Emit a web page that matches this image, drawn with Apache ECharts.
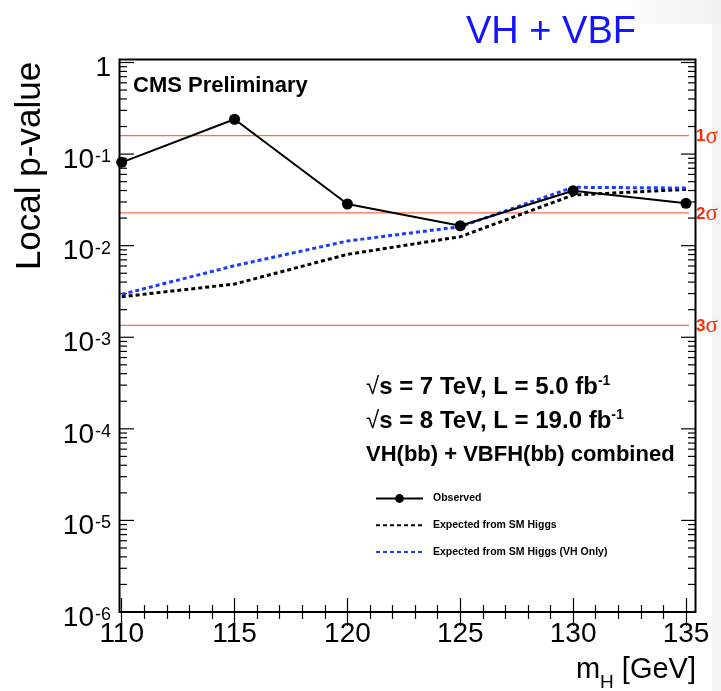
<!DOCTYPE html>
<html>
<head>
<meta charset="utf-8">
<script src="https://cdn.jsdelivr.net/npm/echarts@6/dist/echarts.min.js"></script>
<style>
  html, body { margin: 0; padding: 0; background: #ffffff; }
  #chart { width: 721px; height: 691px; }
</style>
</head>
<body>
<div id="chart"></div>
<script>
// Higgs mass hypotheses [GeV]
const massPoints = [110, 115, 120, 125, 130, 135];
// Local p-values
const observedP   = [0.0813, 0.240, 0.0285, 0.0165, 0.0398, 0.0290];
const expectedP   = [0.00277, 0.00381, 0.00804, 0.01253, 0.0357, 0.0412];
const expectedVHP = [0.00294, 0.00604, 0.01124, 0.0161, 0.0434, 0.0426];
// Significance reference lines
const sigmaP      = [0.1587, 0.02275, 0.00135];
const sigmaLabels = ['1', '2', '3'];
// Axis ranges
const xMin = 110, xMax = 135, xStep = 5;
const yMinExp = -6, yMaxExp = 0;

const FONT = '"Liberation Sans", Arial, Helvetica, sans-serif';
const SERIF = '"Liberation Serif", "DejaVu Serif", serif';

// tick positions on the log axis: decades (major) and 2..9 (minor)
const yTickMarks = [];
for (let e = yMinExp; e <= yMaxExp; e++) {
  const base = Math.pow(10, e);
  yTickMarks.push([0, base, 1]);
  if (e < yMaxExp) {
    for (let k = 2; k <= 9; k++) yTickMarks.push([0, k * base, 0]);
  }
}

const toPairs = vals => massPoints.map((m, i) => [m, vals[i]]);

const chart = echarts.init(document.getElementById('chart'), null, { renderer: 'canvas' });

const xTickAxis = (gridIndex, position, showLabel) => ({
  type: 'value', gridIndex, position,
  min: xMin, max: xMax, interval: xStep,
  axisLine: { show: false },
  axisTick: { show: true, inside: true, length: 14, lineStyle: { color: '#000', width: 1.2 } },
  minorTick: { show: true, splitNumber: 5, length: 7, lineStyle: { color: '#000', width: 1.2 } },
  splitLine: { show: false },
  axisLabel: {
    show: showLabel, fontSize: 28, color: '#000', fontFamily: FONT, margin: 8,
    showMinLabel: true, showMaxLabel: true
  }
});

const option = {
  animation: false,
  backgroundColor: '#ffffff',
  grid: [
    { left: 121.7, right: 35, top: 62.5, bottom: 79 },   // data area
    { left: 120, right: 26, top: 62.5, bottom: 79 },     // frame-wide area (y ticks, sigma lines)
    { left: 121.7, right: 35, top: 59.5, bottom: 79 }    // top x ticks
  ],
  xAxis: [
    xTickAxis(0, 'bottom', true),
    { type: 'value', gridIndex: 1, min: 0, max: 1, show: false },
    xTickAxis(2, 'top', false)
  ],
  yAxis: [
    { type: 'log', logBase: 10, gridIndex: 0, min: Math.pow(10, yMinExp), max: Math.pow(10, yMaxExp), show: false },
    {
      type: 'log', logBase: 10, gridIndex: 1,
      min: Math.pow(10, yMinExp), max: Math.pow(10, yMaxExp), splitNumber: 6,
      axisLine: { show: false }, axisTick: { show: false }, splitLine: { show: false },
      axisLabel: {
        margin: 9, showMinLabel: true, showMaxLabel: true,
        formatter: v => {
          const e = Math.round(Math.log10(v));
          return e === 0 ? '{b|1}' : '{b|10}{s|' + e + '}';
        },
        rich: {
          b: { fontSize: 28, fontFamily: FONT, color: '#000', lineHeight: 28, padding: [12, 0, 0, 0] },
          s: { fontSize: 18, fontFamily: FONT, color: '#000', lineHeight: 18, verticalAlign: 'top', padding: [8, 0, 0, 1] }
        }
      }
    },
    { type: 'value', gridIndex: 2, min: 0, max: 1, show: false }
  ],
  legend: {
    orient: 'vertical', left: 370, top: 488,
    itemWidth: 47, itemHeight: 11, itemGap: 15.7,
    textStyle: { fontSize: 10.5, fontWeight: 'bold', fontFamily: FONT, color: '#000', padding: [0, 0, 0, 5] },
    data: [
      { name: 'Observed' },
      { name: 'Expected from SM Higgs', itemStyle: { opacity: 0 } },
      { name: 'Expected from SM Higgs (VH Only)', itemStyle: { opacity: 0 } }
    ]
  },
  series: [
    {
      // inward tick marks on both vertical frame edges
      type: 'custom', xAxisIndex: 1, yAxisIndex: 1, silent: true, clip: false,
      encode: { x: 0, y: 1 },
      data: yTickMarks,
      renderItem: (params, api) => {
        const v = api.value(1);
        const len = api.value(2) === 1 ? 14 : 7;
        const L = api.coord([0, v]);
        const R = api.coord([1, v]);
        const st = { stroke: '#000', lineWidth: 1.2 };
        return {
          type: 'group', children: [
            { type: 'line', shape: { x1: L[0], y1: L[1], x2: L[0] + len, y2: L[1] }, style: st },
            { type: 'line', shape: { x1: R[0], y1: R[1], x2: R[0] - len, y2: R[1] }, style: st }
          ]
        };
      }
    },
    {
      // significance levels with their labels beside the frame
      type: 'custom', xAxisIndex: 1, yAxisIndex: 1, silent: true, clip: false, z: 1,
      encode: { x: 0, y: 1 },
      data: sigmaP.map((p, i) => [0, p, i]),
      renderItem: (params, api) => {
        const p = api.value(1);
        const L = api.coord([0, p]);
        const R = api.coord([1, p]);
        return {
          type: 'group', children: [
            { type: 'line', shape: { x1: L[0], y1: L[1], x2: R[0] - 6, y2: R[1] },
              style: { stroke: '#ff6a4a', lineWidth: 1.3 } },
            { type: 'text', x: R[0] + 1, y: R[1] + 1,
              style: {
                text: '{n|' + sigmaLabels[api.value(2)] + '}{g|σ}', textVerticalAlign: 'middle',
                rich: {
                  n: { fontSize: 17, fontWeight: 'bold', fontFamily: FONT, fill: '#ff2a00' },
                  g: { fontSize: 23, fontFamily: SERIF, fill: '#ff2a00' }
                }
              } }
          ]
        };
      }
    },
    {
      name: 'Expected from SM Higgs', type: 'line', xAxisIndex: 0, yAxisIndex: 0,
      data: toPairs(expectedP), showSymbol: false, symbol: 'none',
      lineStyle: { color: '#000', width: 3, type: [4, 3] }, itemStyle: { color: '#000' }, z: 3
    },
    {
      name: 'Expected from SM Higgs (VH Only)', type: 'line', xAxisIndex: 0, yAxisIndex: 0,
      data: toPairs(expectedVHP), showSymbol: false, symbol: 'none',
      lineStyle: { color: '#1a3cff', width: 3, type: [4, 3] }, itemStyle: { color: '#1a3cff' }, z: 4
    },
    {
      name: 'Observed', type: 'line', xAxisIndex: 0, yAxisIndex: 0,
      data: toPairs(observedP), symbol: 'circle', symbolSize: 11,
      lineStyle: { color: '#000', width: 2 }, itemStyle: { color: '#000' }, z: 5
    }
  ],
  graphic: [
    { type: 'rect', silent: true, z: -10, shape: { x: 712, y: 0, width: 9, height: 691 }, style: { fill: '#f3f3f3' } },
    { type: 'rect', silent: true, z: -10, shape: { x: 600, y: 0, width: 121, height: 24 },
      style: { fill: new echarts.graphic.LinearGradient(0, 0, 1, 0, [
        { offset: 0, color: 'rgba(243,243,243,0)' }, { offset: 1, color: '#f1f1f1' }]) } },
    { type: 'rect', silent: true, z: 10,
      shape: { x: 119.5, y: 59.5, width: 576, height: 552.5 },
      style: { fill: 'none', stroke: '#000', lineWidth: 2 } },
    { type: 'text', silent: true, x: 551, y: 33,
      style: { text: 'VH + VBF', fill: '#1414ff', fontSize: 38, fontFamily: FONT, textAlign: 'center', textVerticalAlign: 'middle' } },
    { type: 'text', silent: true, x: 30, y: 166, rotation: Math.PI / 2,
      style: { text: 'Local p-value', fill: '#000', fontSize: 35, fontFamily: FONT, textAlign: 'center', textVerticalAlign: 'middle' } },
    { type: 'text', silent: true, x: 133, y: 86,
      style: { text: 'CMS Preliminary', fill: '#000', fontSize: 22, fontWeight: 'bold', fontFamily: FONT, textVerticalAlign: 'middle' } },
    { type: 'text', silent: true, x: 366, y: 387,
      style: { text: '{r|√}{a|s = 7 TeV, L = 5.0 fb}{s|-1}', textVerticalAlign: 'middle',
        rich: {
          r: { fontSize: 24, fontFamily: FONT, fill: '#000', lineHeight: 26 },
          a: { fontSize: 24, fontWeight: 'bold', fontFamily: FONT, fill: '#000', lineHeight: 26 },
          s: { fontSize: 14, fontWeight: 'bold', fontFamily: FONT, fill: '#000', lineHeight: 14, verticalAlign: 'top' }
        } } },
    { type: 'text', silent: true, x: 366, y: 421,
      style: { text: '{r|√}{a|s = 8 TeV, L = 19.0 fb}{s|-1}', textVerticalAlign: 'middle',
        rich: {
          r: { fontSize: 24, fontFamily: FONT, fill: '#000', lineHeight: 26 },
          a: { fontSize: 24, fontWeight: 'bold', fontFamily: FONT, fill: '#000', lineHeight: 26 },
          s: { fontSize: 14, fontWeight: 'bold', fontFamily: FONT, fill: '#000', lineHeight: 14, verticalAlign: 'top' }
        } } },
    { type: 'text', silent: true, x: 366, y: 455,
      style: { text: 'VH(bb) + VBFH(bb) combined', fill: '#000', fontSize: 22, fontWeight: 'bold', fontFamily: FONT, textVerticalAlign: 'middle' } },
    { type: 'text', silent: true, x: 696, y: 670,
      style: { text: '{m|m}{h|H}{t| [GeV]}', textAlign: 'right', textVerticalAlign: 'middle',
        rich: {
          m: { fontSize: 29, fontFamily: FONT, fill: '#000', lineHeight: 32 },
          h: { fontSize: 19, fontFamily: FONT, fill: '#000', lineHeight: 19, verticalAlign: 'bottom', padding: [0, 0, -6, 0] },
          t: { fontSize: 29, fontFamily: FONT, fill: '#000', lineHeight: 32 }
        } } }
  ]
};

chart.setOption(option);
</script>
</body>
</html>
